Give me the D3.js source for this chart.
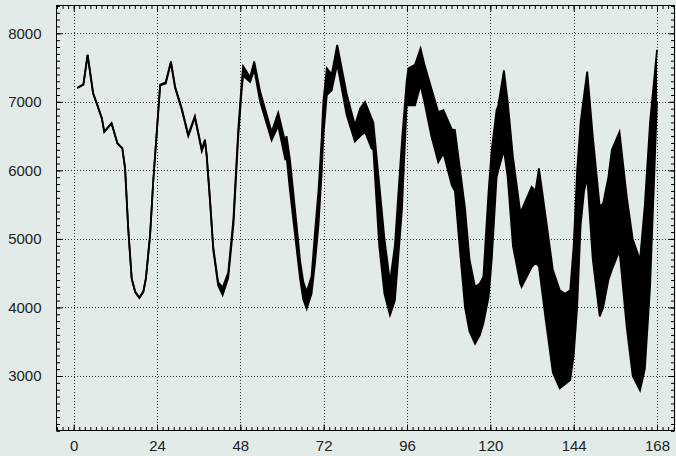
<!DOCTYPE html>
<html>
<head>
<meta charset="utf-8">
<script src="https://cdn.jsdelivr.net/npm/d3@7"></script>
<style>
  body { margin: 0; background: #e3ebe8; }
  svg { display: block; }
  .tick text { font-family: "Liberation Sans", Arial, sans-serif; font-size: 15px; fill: #222; }
</style>
</head>
<body>
<div id="chart"></div>
<script>
// lead time (hours) at the kinks of the ensemble envelope
const hours = [1, 2.8, 4, 5.6, 6.8, 8.1, 8.8, 10.9, 12.6, 14, 14.8, 15.7, 16.7, 17.7, 18.9, 20.05, 20.8, 22, 22.9,
  24.9, 26.5, 28, 29.2, 31.1, 33, 34.9, 36.9, 37.8, 38.3, 39.3, 40.2, 41.6, 42.9, 44.5, 46, 47.4,
  48.4, 48.8, 50.8, 52, 53.7, 57, 58.9, 60.9, 61.3, 62.3, 64.2, 65.2, 66.1, 67.1, 68.5, 69.5, 70.5,
  71.4, 71.9, 72.9, 74.3, 75.9, 78.6, 81, 82.5, 83.9, 85.8, 86.3, 88, 89.5, 91.1, 92.5, 94.5, 95.9,
  96.4, 98.3, 99.9, 101, 103, 105, 106.5, 108.9, 109.8, 111.3, 112.7, 114, 115.6, 117, 118, 119.5,
  120.4, 121.8, 122.3, 123.9, 125, 126.5, 128.6, 129, 131.9, 133, 134, 136, 138, 140, 141.5, 143,
  144, 145, 146, 147, 147.9, 149.5, 151.5, 152.5, 154, 155, 157.2, 159.3, 161, 163.1, 164.5, 166, 168];

// lowest member at each lead time
const lowMember = [7200, 7250, 7680, 7120, 6950, 6758, 6560, 6684, 6390, 6318, 6026, 5150, 4420, 4225, 4136, 4225, 4418, 5050, 5830,
  7238, 7268, 7570, 7205, 6888, 6498, 6768, 6280, 6425, 6205, 5515, 4835, 4320, 4180, 4430, 5200, 6500,
  7180, 7380, 7290, 7470, 7000, 6440, 6650, 6170, 6200, 5700, 4860, 4420, 4120, 3980, 4200, 4650, 5200,
  5950, 6500, 7100, 7170, 7550, 6810, 6420, 6500, 6560, 6320, 6300, 4900, 4200, 3890, 4100, 5400, 6950,
  6950, 6950, 7245, 7000, 6500, 6120, 6250, 5780, 5700, 4800, 4000, 3650, 3470, 3600, 3770, 4150,
  4700, 5900, 6000, 6300, 5900, 4900, 4350, 4300, 4590, 4650, 4600, 3800, 3050, 2820, 2880, 2940,
  3300, 4000, 5200, 5700, 5900, 4700, 3870, 4000, 4400, 4550, 4830, 3700, 3000, 2790, 3100, 4300, 7000];

// highest member at each lead time
const highMember = [7205, 7258, 7690, 7126, 6956, 6764, 6566, 6690, 6396, 6324, 6032, 5156, 4426, 4232, 4146, 4235, 4430, 5062, 5842,
  7250, 7285, 7590, 7225, 6910, 6522, 6792, 6305, 6450, 6232, 5550, 4875, 4370, 4290, 4510, 5290, 6600,
  7290, 7520, 7360, 7590, 7150, 6560, 6840, 6420, 6500, 6150, 5200, 4680, 4380, 4230, 4450, 5100, 5700,
  6450, 7000, 7490, 7400, 7830, 7120, 6660, 6905, 7000, 6760, 6700, 5800, 5000, 4370, 4900, 6400, 7300,
  7490, 7540, 7780, 7550, 7200, 6850, 6880, 6600, 6590, 6000, 5450, 4700, 4300, 4350, 4450, 5700,
  6300, 6880, 6950, 7460, 7000, 6200, 5400, 5420, 5760, 5700, 6030, 5300, 4550, 4250, 4200, 4250,
  4900, 6000, 6700, 7100, 7440, 6500, 5470, 5520, 5900, 6300, 6560, 5610, 5000, 4690, 5500, 6700, 7760];

const xTicks = [0, 24, 48, 72, 96, 120, 144, 168];
const yTicks = [3000, 4000, 5000, 6000, 7000, 8000];

const W = 676, H = 456;
const frame = { left: 56, right: 675, top: 5, bottom: 431 };

const svg = d3.select("#chart").append("svg")
  .attr("width", W)
  .attr("height", H);

const x = d3.scaleLinear().domain([0, 168]).range([73.7, 657]);
const y = d3.scaleLinear().domain([3000, 8000]).range([376, 33.3]);

const xMin = x.invert(frame.left), xMax = x.invert(frame.right);
const yMin = y.invert(frame.bottom), yMax = y.invert(frame.top);
const xMinor = d3.range(-4.8, xMax, 1.6).filter(v => v > xMin);
const yMinor = d3.range(Math.ceil(yMin / 100) * 100, yMax, 100);

// dotted grid
const grid = svg.append("g")
  .attr("stroke", "#333")
  .attr("stroke-width", 1)
  .attr("stroke-dasharray", "1,2");
grid.selectAll("line.gx").data(xTicks).join("line")
  .attr("x1", d => Math.round(x(d)) + 0.5).attr("x2", d => Math.round(x(d)) + 0.5)
  .attr("y1", frame.top).attr("y2", frame.bottom);
grid.selectAll("line.gy").data(yTicks).join("line")
  .attr("y1", d => Math.round(y(d)) + 0.5).attr("y2", d => Math.round(y(d)) + 0.5)
  .attr("x1", frame.left).attr("x2", frame.right);

// ensemble envelope
const pts = hours.map((h, i) => ({ h, lo: lowMember[i], hi: highMember[i] }));

svg.append("path")
  .datum(pts)
  .attr("fill", "#000")
  .attr("d", d3.area().x(d => x(d.h)).y0(d => y(d.lo)).y1(d => y(d.hi)));

["lo", "hi"].forEach(k => {
  svg.append("path")
    .datum(pts)
    .attr("fill", "none")
    .attr("stroke", "#000")
    .attr("stroke-width", 1.8)
    .attr("d", d3.line().x(d => x(d.h)).y(d => y(d[k])));
});

// axes: ticks point inward, mirrored on top and right
function axisGroup(axis, tx, ty) {
  const g = svg.append("g").attr("transform", `translate(${tx},${ty})`).call(axis);
  g.select(".domain").remove();
  g.selectAll(".tick line").attr("stroke", "#000");
  return g;
}

const bx = frame.bottom - 0.5, tyy = frame.top + 0.5;
const lx = frame.left + 0.5, rx = frame.right - 0.5;

axisGroup(d3.axisBottom(x).tickValues(xTicks).tickSize(-6), 0, bx)
  .selectAll("text").attr("dy", "0.71em").attr("y", 10);
axisGroup(d3.axisBottom(x).tickValues(xMinor).tickSize(-3.5).tickFormat(""), 0, bx);
axisGroup(d3.axisTop(x).tickValues(xTicks).tickSize(-6).tickFormat(""), 0, tyy);
axisGroup(d3.axisTop(x).tickValues(xMinor).tickSize(-3.5).tickFormat(""), 0, tyy);

axisGroup(d3.axisLeft(y).tickValues(yTicks).tickSize(-6).tickPadding(15).tickFormat(d3.format("d")), lx, 0);
axisGroup(d3.axisLeft(y).tickValues(yMinor).tickSize(-3.5).tickFormat(""), lx, 0);
axisGroup(d3.axisRight(y).tickValues(yTicks).tickSize(-6).tickFormat(""), rx, 0);
axisGroup(d3.axisRight(y).tickValues(yMinor).tickSize(-3.5).tickFormat(""), rx, 0);

// frame
svg.append("rect")
  .attr("x", frame.left + 0.5).attr("y", frame.top + 0.5)
  .attr("width", frame.right - frame.left - 1).attr("height", frame.bottom - frame.top - 1)
  .attr("fill", "none")
  .attr("stroke", "#000");
</script>
</body>
</html>
